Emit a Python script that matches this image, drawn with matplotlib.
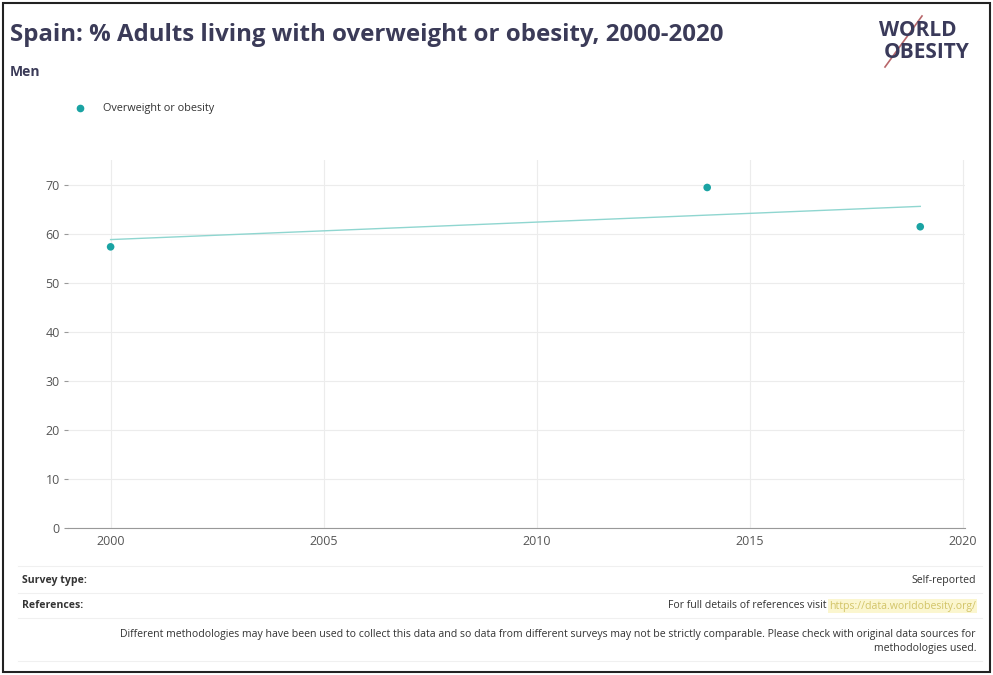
import numpy as np
import matplotlib
matplotlib.use("Agg")
import matplotlib.pyplot as plt
from matplotlib.lines import Line2D
from matplotlib.patches import Rectangle

years = [2000, 2014, 2019]
values = [57.3, 69.4, 61.4]
xticks = [2000, 2005, 2010, 2015, 2020]
yticks = [0, 10, 20, 30, 40, 50, 60, 70]
series_name = "Overweight or obesity"

plt.rcParams['font.family'] = ['Open Sans', 'DejaVu Sans']
W, H = 993, 675
fig = plt.figure(figsize=(W/100, H/100), dpi=100)
fig.patch.set_facecolor('white')

def fx(px): return px / W
def fy(py): return 1 - py / H

# outer border
fig.add_artist(Rectangle((fx(3), fy(672)), fx(987), 669/H, transform=fig.transFigure,
                         fill=False, edgecolor='#222222', linewidth=1.5))

title_c = '#3b3b58'
fig.text(fx(10), fy(35), "Spain: % Adults living with overweight or obesity, 2000-2020",
         fontsize=17.3, fontweight='bold', color=title_c, va='center', ha='left')
fig.text(fx(10), fy(72), "Men", fontsize=10, fontweight='bold', color=title_c, va='center')

# logo
fig.text(fx(879), fy(31), "WORLD", fontsize=15, fontweight='bold', color='#3a3a5a', ha='left', va='center')
fig.text(fx(884), fy(52), "OBESITY", fontsize=15, fontweight='bold', color='#3a3a5a', ha='left', va='center')
fig.add_artist(Line2D([fx(885), fx(922)], [fy(67), fy(16)], transform=fig.transFigure,
                      color='#b8666a', linewidth=1.2))

# legend
fig.add_artist(Line2D([fx(80)], [fy(108)], transform=fig.transFigure, marker='o',
                      markersize=4.5, color='#1aa3a3', linestyle='none'))
fig.text(fx(103), fy(108), series_name, fontsize=7.8, color='#333333', va='center')

ax = fig.add_axes([fx(68), fy(528), fx(965) - fx(68), fy(160) - fy(528)])
ax.set_xlim(1999.0, 2020.05)
ax.set_ylim(0, 75)
ax.set_xticks(xticks)
ax.set_yticks(yticks)
ax.grid(True, color='#ececec', linewidth=0.8)
ax.set_axisbelow(True)
for s in ['top', 'right', 'left']:
    ax.spines[s].set_visible(False)
ax.spines['bottom'].set_color('#999999')
ax.spines['bottom'].set_linewidth(0.8)
ax.tick_params(axis='x', length=0, labelsize=9, labelcolor='#555555', pad=5)
ax.tick_params(axis='y', length=3, color='#999999', labelsize=9, labelcolor='#555555', pad=3)

coef = np.polyfit(years, values, 1)
tx = np.array([min(years), max(years)])
ax.plot(tx, np.polyval(coef, tx), color='#8fd6d0', linewidth=1.0, zorder=2)
ax.scatter(years, values, s=30, color='#1aa3a3', zorder=3, edgecolors='none')

# footer
fs = 7.6
fc = '#333333'
fig.text(fx(22), fy(580), "Survey type:", fontsize=fs, fontweight='bold', color=fc, va='center')
fig.text(fx(976), fy(580), "Self-reported", fontsize=fs, color=fc, va='center', ha='right')
fig.text(fx(22), fy(606), "References:", fontsize=fs, fontweight='bold', color=fc, va='center')
fig.text(fx(976), fy(606), "https://data.worldobesity.org/", fontsize=fs, color='#d2c468', va='center', ha='right',
         bbox=dict(facecolor='#fbf6cf', edgecolor='none', pad=1))
fig.text(fx(826), fy(606), "For full details of references visit", fontsize=fs, color=fc, va='center', ha='right')
fig.text(fx(976), fy(634), "Different methodologies may have been used to collect this data and so data from different surveys may not be strictly comparable. Please check with original data sources for",
         fontsize=fs, color=fc, va='center', ha='right')
fig.text(fx(976), fy(648), "methodologies used.", fontsize=fs, color=fc, va='center', ha='right')
for yy in [566, 593, 618, 661]:
    fig.add_artist(Line2D([fx(18), fx(982)], [fy(yy), fy(yy)], transform=fig.transFigure,
                          color='#f0f0f0', linewidth=0.8))

fig.savefig("out.png", dpi=100, facecolor='white')
